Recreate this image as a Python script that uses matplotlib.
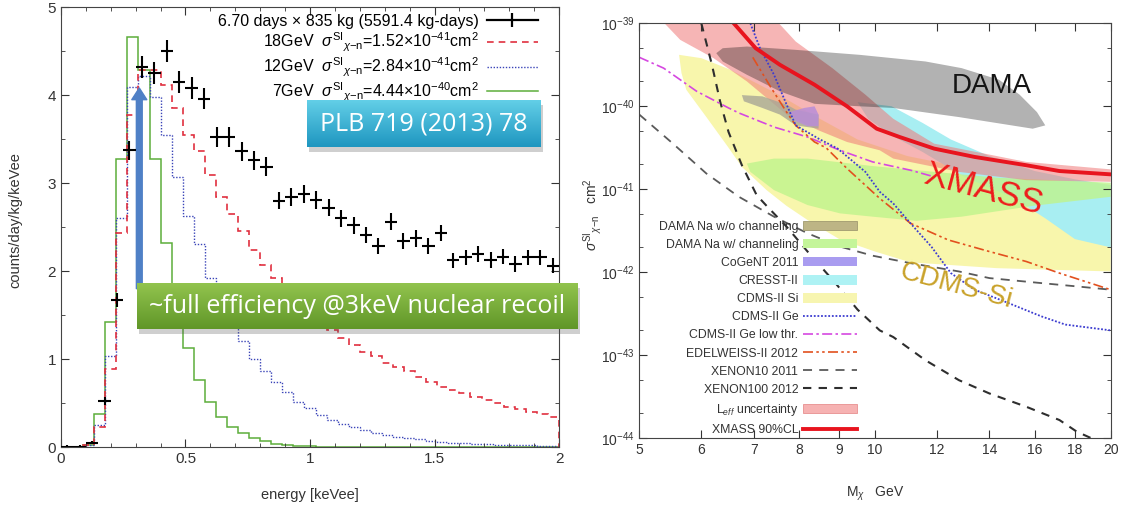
import numpy as np
import matplotlib
matplotlib.use("Agg")
import matplotlib.pyplot as plt
from matplotlib.patches import Patch, Rectangle
from matplotlib.lines import Line2D
from matplotlib.ticker import MultipleLocator, FixedLocator, NullFormatter, FuncFormatter

plt.rcParams['font.family'] = ['Liberation Sans', 'DejaVu Sans']
plt.rcParams['mathtext.fontset'] = 'custom'
plt.rcParams['mathtext.rm'] = 'Liberation Sans'
plt.rcParams['mathtext.it'] = 'Liberation Sans:italic'
plt.rcParams['mathtext.bf'] = 'Liberation Sans:bold'

# ---------------- left panel data ----------------
bin_edges = np.linspace(0, 2, 46)          # model histogram bins
energy = np.arange(0.025, 2.0, 0.05)       # data bin centres

counts = [0.0, 0.0, 0.05, 0.52, 1.67, 3.37, 4.32, 4.25, 4.50, 4.15,
          4.08, 3.96, 3.52, 3.52, 3.36, 3.26, 3.185, 2.80, 2.845, 2.875,
          2.81, 2.72, 2.60, 2.52, 2.41, 2.28, 2.56, 2.34, 2.37, 2.28,
          2.43, 2.12, 2.155, 2.19, 2.125, 2.165, 2.08, 2.155, 2.155, 2.06]
counts_err = [0.02, 0.02, 0.02, 0.043, 0.077, 0.110, 0.124, 0.123, 0.127, 0.122,
              0.121, 0.119, 0.112, 0.112, 0.110, 0.108, 0.107, 0.100, 0.101, 0.101,
              0.100, 0.099, 0.096, 0.095, 0.093, 0.090, 0.096, 0.091, 0.092, 0.090,
              0.093, 0.087, 0.088, 0.089, 0.087, 0.088, 0.086, 0.088, 0.088, 0.086]

wimp18 = [0, 0, 0.02, 0.23, 0.89, 2.43, 3.77, 4.28, 4.28, 4.11,
          3.85, 3.55, 3.36, 3.09, 2.84, 2.65, 2.46, 2.24, 2.07, 1.92,
          1.78, 1.65, 1.53, 1.42, 1.33, 1.235, 1.16, 1.08, 1.03, 0.95,
          0.91, 0.86, 0.80, 0.74, 0.685, 0.65, 0.61, 0.57, 0.53, 0.50,
          0.46, 0.43, 0.40, 0.37, 0.34]
wimp12 = [0, 0, 0.02, 0.25, 1.03, 2.6, 4.09, 4.22, 3.98, 3.55,
          3.07, 2.62, 2.31, 1.92, 1.65, 1.4, 1.2, 1.0, 0.86, 0.74,
          0.63, 0.515, 0.44, 0.364, 0.307, 0.26, 0.224, 0.193, 0.163, 0.136,
          0.117, 0.098, 0.087, 0.072, 0.06, 0.05, 0.045, 0.038, 0.032, 0.028,
          0.025, 0.022, 0.02, 0.017, 0.015]
wimp7 = [0, 0, 0.02, 0.38, 1.42, 3.27, 4.66, 4.28, 3.27, 2.32,
         1.60, 1.12, 0.76, 0.515, 0.344, 0.23, 0.16, 0.10, 0.065, 0.04,
         0.025, 0.012, 0.006, 0, 0, 0, 0, 0, 0, 0,
         0, 0, 0, 0, 0, 0, 0, 0, 0, 0,
         0, 0, 0, 0, 0]

legend_left = ['6.70 days × 835 kg (5591.4 kg-days)',
               r'18GeV  $\sigma^{\mathrm{SI}}{}_{\chi\mathrm{-n}}$=1.52×10$^{-41}$cm$^2$',
               r'12GeV  $\sigma^{\mathrm{SI}}{}_{\chi\mathrm{-n}}$=2.84×10$^{-41}$cm$^2$',
               r'7GeV  $\sigma^{\mathrm{SI}}{}_{\chi\mathrm{-n}}$=4.44×10$^{-40}$cm$^2$']

# ---------------- right panel data (log10 of cross section) ----------------
xmass_m = [6.6, 7.04, 7.56, 8.37, 9.21, 10.05, 10.75, 11.9, 13.4, 15.6, 17.2, 20.0]
xmass_s = [-39.0, -39.30, -39.50, -39.74, -40.0, -40.27, -40.37, -40.51, -40.61, -40.71, -40.78, -40.82]

leff_m = [5.26, 7.37, 7.92, 8.82, 9.72, 10.55, 11.9, 15.6, 20.0,
          20.0, 15.6, 12.8, 10.55, 10.14, 9.21, 8.47, 7.71, 6.86, 6.22, 5.64, 5.26]
leff_s = [-38.9, -38.9, -39.22, -39.54, -39.86, -40.15, -40.45, -40.67, -40.76,
          -40.91, -40.89, -40.79, -40.63, -40.53, -40.43, -40.29, -40.1, -39.70, -39.42, -39.2, -38.9]

dama_m = [6.27, 6.39, 6.86, 7.92, 9.56, 11.6, 12.9, 14.4, 15.3, 16.1, 16.5,
          15.9, 12.8, 10.55, 9.56, 8.37, 7.56, 6.86, 6.39]
dama_s = [-39.36, -39.30, -39.28, -39.32, -39.38, -39.46, -39.54, -39.68, -39.86, -40.07, -40.23,
          -40.27, -40.13, -40.02, -40.0, -39.97, -39.82, -39.62, -39.46]

damana_m = [6.76, 7.18, 7.71, 7.92, 8.47, 8.47, 7.92, 7.56, 7.18, 6.8]
damana_s = [-39.865, -39.88, -39.98, -40.04, -40.10, -40.27, -40.23, -40.10, -40.02, -39.94]

cogent_m = [7.77, 8.12, 8.37, 8.47, 8.47, 8.2, 7.92]
cogent_s = [-40.07, -40.02, -40.0, -40.10, -40.24, -40.24, -40.18]

damach_m = [6.86, 7.43, 8.2, 9.93, 11.6, 14.3, 20.0,
            20.0, 15.9, 12.9, 11.3, 9.93, 9.02, 8.2, 7.43, 6.93]
damach_s = [-40.69, -40.63, -40.63, -40.72, -40.78, -40.86, -40.92,
            -41.09, -41.2, -41.33, -41.38, -41.33, -41.29, -41.19, -41.01, -40.79]

cresst_m = [9.5, 10.5, 11.5, 12.5, 14.0, 16.0, 18.0, 20.0,
            20.0, 18.0, 16.5, 15.0, 13.0, 11.5, 10.5, 9.8]
cresst_s = [-39.95, -40.0, -40.2, -40.4, -40.6, -40.78, -40.88, -40.95,
            -41.7, -41.6, -41.35, -41.1, -40.85, -40.55, -40.35, -40.15]

cdmssi_m = [5.62, 6.0, 6.5, 7.5, 8.5, 9.5, 11.0, 14.0, 20.0,
            20.0, 14.3, 11.1, 10.0, 9.0, 8.2, 7.71, 7.27, 6.76, 6.49, 6.09, 5.74, 5.66]
cdmssi_s = [-39.38, -39.42, -39.55, -39.85, -40.15, -40.4, -40.6, -40.8, -40.95,
            -41.99, -41.95, -41.88, -41.75, -41.6, -41.37, -41.2, -41.01, -40.73, -40.49, -40.13, -39.80, -39.6]

cdmsge_m = [6.93, 7.13, 7.43, 7.71, 7.92, 8.47, 8.96, 9.72, 10.14, 10.55, 11.1, 11.8, 12.5, 13.4, 14.8, 16.3, 17.5, 20.0]
cdmsge_s = [-39.0, -39.3, -39.62, -39.98, -40.23, -40.39, -40.51, -40.79, -41.03, -41.17, -41.41, -41.69, -42.01, -42.21, -42.37, -42.53, -42.63, -42.70]

cdmslow_m = [5.0, 5.37, 5.92, 6.5, 6.7, 7.43, 8.2, 9.02, 9.93, 11.1, 11.8]
cdmslow_s = [-39.41, -39.54, -39.82, -40.02, -40.08, -40.25, -40.37, -40.53, -40.67, -40.77, -40.84]

edel_m = [6.98, 7.37, 7.71, 7.92, 8.37, 8.66, 9.21, 10.14, 11.1, 12.4, 14.0, 15.6, 17.2, 20.0]
edel_s = [-39.41, -39.78, -40.07, -40.23, -40.43, -40.5, -40.75, -41.11, -41.41, -41.61, -41.75, -41.87, -42.01, -42.21]

xe10_m = [5.0, 5.52, 6.09, 6.7, 7.43, 8.2, 9.02, 9.93, 11.1, 12.8, 14.0, 16.3, 18.1, 20.0]
xe10_s = [-40.1, -40.45, -40.81, -41.09, -41.33, -41.53, -41.69, -41.8, -41.89, -41.99, -42.07, -42.13, -42.17, -42.21]

xe100_m = [6.0, 6.19, 6.34, 6.5, 6.76, 7.06, 7.27, 7.71, 8.2, 8.9, 9.5, 10.14, 10.55, 11.6, 12.8, 14.0, 15.6, 17.2, 18.1, 18.9]
xe100_s = [-39.0, -39.5, -39.94, -40.31, -40.71, -41.07, -41.2, -41.45, -41.75, -42.13, -42.45, -42.7, -42.78, -43.06, -43.30, -43.46, -43.62, -43.78, -43.92, -44.0]

mass_ticks = [5, 6, 7, 8, 9, 10, 12, 14, 16, 18, 20]
sigma_decades = [-44, -43, -42, -41, -40, -39]

fig = plt.figure(figsize=(11.25, 5.11), dpi=100)

# ================= left panel =================
axL = fig.add_axes([0.0542, 0.1252, 0.4427, 0.861])
c_red, c_blue, c_green = '#e03040', '#3a44b8', '#5cae3a'
axL.stairs(wimp7, bin_edges, color=c_green, lw=1.1)
axL.stairs(wimp12, bin_edges, color=c_blue, lw=1.0, ls=(0, (1, 1.2)))
axL.stairs(wimp18, bin_edges, color=c_red, lw=1.2, ls=(0, (4, 3)))
axL.errorbar(energy, counts, xerr=0.025, yerr=counts_err, fmt='none',
             ecolor='black', elinewidth=1.5, capsize=0, zorder=5)

axL.set_xlim(0, 2)
axL.set_ylim(0, 5)
axL.xaxis.set_major_locator(MultipleLocator(0.5))
axL.xaxis.set_minor_locator(MultipleLocator(0.1))
axL.yaxis.set_major_locator(MultipleLocator(1))
axL.yaxis.set_minor_locator(MultipleLocator(0.5))
fmt_g = FuncFormatter(lambda v, p: '%g' % v)
axL.xaxis.set_major_formatter(fmt_g)
axL.yaxis.set_major_formatter(fmt_g)
axL.tick_params(which='both', direction='in', top=True, right=True, labelsize=11, colors='#333333')
axL.tick_params(which='major', length=6)
axL.tick_params(which='minor', length=3)
for s in axL.spines.values():
    s.set_color('#444444')
axL.set_xlabel('energy [keVee]', fontsize=10.5, color='#333333')
axL.set_ylabel('counts/day/kg/keVee', fontsize=10.5, color='#333333')
axL.xaxis.set_label_coords(0.5, -0.093)
axL.yaxis.set_label_coords(-0.078, 0.516)

hL = [Line2D([], [], color='black', lw=1.6, marker='|', markersize=10, markeredgewidth=1.6),
      Line2D([], [], color=c_red, lw=1.2, ls=(0, (4, 3))),
      Line2D([], [], color=c_blue, lw=1.0, ls=(0, (1, 1.2))),
      Line2D([], [], color=c_green, lw=1.1)]
axL.legend(hL, legend_left, loc='upper right', bbox_to_anchor=(538 / 1125, 1 - 14 / 511),
           bbox_transform=fig.transFigure, frameon=False, markerfirst=False, fontsize=11.5,
           handlelength=3.2, handletextpad=0.5, labelspacing=0.1, borderpad=0, borderaxespad=0)

axL.annotate('', xy=(0.3145, 4.08), xytext=(0.3145, 1.8),
             arrowprops=dict(arrowstyle='simple,tail_width=0.35,head_width=0.9,head_length=0.7',
                             color='#4f80c6', mutation_scale=12, shrinkA=0, shrinkB=0))


def gradient_box(px, text, top, bottom, fs):
    x0, y0, x1, y1 = px
    rect = [x0 / 1125, 1 - y1 / 511, (x1 - x0) / 1125, (y1 - y0) / 511]
    shadow = Rectangle((rect[0] + 0.002, rect[1] - 0.009), rect[2], rect[3],
                       transform=fig.transFigure, color='#555555', alpha=0.28, zorder=4, lw=0)
    fig.patches.append(shadow)
    bax = fig.add_axes(rect, zorder=5)
    t = np.array(top, float) / 255
    b = np.array(bottom, float) / 255
    f = np.linspace(0, 1, 60)[:, None, None]
    bax.imshow(t + (b - t) * f, aspect='auto', extent=[0, 1, 0, 1])
    bax.set_axis_off()
    bax.text(0.5, 0.5, text, color='white', ha='center', va='center',
             fontsize=fs, family='Open Sans', transform=bax.transAxes)


gradient_box((307, 100, 541, 147), 'PLB 719 (2013) 78', (100, 208, 232), (30, 150, 192), 18)
gradient_box((137, 283, 578, 329), '~full efficiency @3keV nuclear recoil', (146, 196, 78), (96, 150, 40), 18)

# ================= right panel =================
axR = fig.add_axes([0.5683, 0.1423, 0.419, 0.8121])
axR.set_xscale('log')
axR.set_yscale('log')


def pw(s):
    return 10.0 ** np.array(s)


axR.fill(cdmssi_m, pw(cdmssi_s), color='#f8f6ac', lw=0, zorder=1)
axR.fill(cresst_m, pw(cresst_s), color='#a8eef2', lw=0, zorder=1.1)
axR.fill(damach_m, pw(damach_s), color='#bff48c', alpha=0.8, lw=0, zorder=1.2)
axR.fill(leff_m, pw(leff_s), color='#f07878', alpha=0.55, lw=0, zorder=1.3)
axR.fill(damana_m, pw(damana_s), color='#a9a796', alpha=0.8, lw=0, zorder=1.4)
axR.fill(cogent_m, pw(cogent_s), color='#b98ed8', alpha=0.85, lw=0, zorder=1.5)
axR.fill(dama_m, pw(dama_s), color='black', alpha=0.3, lw=0, zorder=1.6)

st_cdmsge = dict(color='#3c3cd0', lw=1.3, ls=(0, (1, 1)))
st_low = dict(color='#d548e0', lw=1.2, ls=(0, (6, 2, 1.5, 2)))
st_edel = dict(color='#e2501e', lw=1.2, ls=(0, (6, 2, 1.5, 2, 1.5, 2)))
st_xe10 = dict(color='#5a5a5a', lw=1.3, ls=(0, (5, 4)))
st_xe100 = dict(color='#2e2e2e', lw=1.5, ls=(0, (4, 3.5)))
st_xmass = dict(color='#e8141e', lw=2.8)

axR.plot(xe10_m, pw(xe10_s), zorder=3, **st_xe10)
axR.plot(xe100_m, pw(xe100_s), zorder=3, **st_xe100)
axR.plot(cdmslow_m, pw(cdmslow_s), zorder=3, **st_low)
axR.plot(edel_m, pw(edel_s), zorder=3, **st_edel)
axR.plot(cdmsge_m, pw(cdmsge_s), zorder=3, **st_cdmsge)
axR.plot(xmass_m, pw(xmass_s), zorder=4, **st_xmass)

axR.set_xlim(5, 20)
axR.set_ylim(1e-44, 1e-39)
axR.xaxis.set_major_locator(FixedLocator(mass_ticks))
axR.xaxis.set_major_formatter(FuncFormatter(lambda v, p: '%d' % round(v)))
axR.xaxis.set_minor_locator(FixedLocator([]))
axR.yaxis.set_major_locator(FixedLocator(pw(sigma_decades)))
axR.yaxis.set_major_formatter(FuncFormatter(lambda v, p: r'$10^{%d}$' % round(np.log10(v))))
minor_y = [m * 10.0 ** d for d in sigma_decades[:-1] for m in (2, 5)]
axR.yaxis.set_minor_locator(FixedLocator(minor_y))
axR.yaxis.set_minor_formatter(NullFormatter())
axR.tick_params(which='both', direction='in', top=True, right=True, labelsize=10, colors='#333333')
axR.tick_params(which='major', length=6)
axR.tick_params(which='minor', length=3)
for s in axR.spines.values():
    s.set_color('#444444')
    s.set_zorder(6)

axR.set_ylabel(r'$\sigma^{\mathrm{SI}}{}_{\chi\mathrm{-n}}$   cm$^2$', fontsize=10, color='#333333')
axR.set_xlabel(r'M$_\chi$   GeV', fontsize=10, color='#333333')
axR.yaxis.set_label_coords(-0.075, 0.538)
axR.xaxis.set_label_coords(0.5, -0.112)

axR.text(14.1, 10 ** -39.76, 'DAMA', fontsize=20, ha='center', va='center', color='#151515', zorder=5)
axR.text(13.74, 10 ** -41.0, 'XMASS', fontsize=25, ha='center', va='center', color='#ee1c1c',
         rotation=-15, rotation_mode='anchor', zorder=5)
axR.text(12.68, 10 ** -42.165, 'CDMS-Si', fontsize=20, ha='center', va='center', color='#c9a22a',
         rotation=-15, rotation_mode='anchor', zorder=5)

hR = [Patch(facecolor='#bdb585', edgecolor='#a09a70', lw=0.6),
      Patch(facecolor='#c4f59a', lw=0),
      Patch(facecolor='#a99cf0', lw=0),
      Patch(facecolor='#aef2f4', lw=0),
      Patch(facecolor='#f7f5b0', lw=0),
      Line2D([], [], **st_cdmsge),
      Line2D([], [], **st_low),
      Line2D([], [], **st_edel),
      Line2D([], [], **st_xe10),
      Line2D([], [], **st_xe100),
      Patch(facecolor='#f6b2b2', edgecolor='#e89090', lw=0.6),
      Line2D([], [], **st_xmass)]
labR = ['DAMA Na w/o channeling', 'DAMA Na w/ channeling', 'CoGeNT 2011', 'CRESST-II',
        'CDMS-II Si', 'CDMS-II Ge', 'CDMS-II Ge low thr.', 'EDELWEISS-II 2012',
        'XENON10 2011', 'XENON100 2012', r'L$_{eff}$ uncertainty', 'XMASS 90%CL']
legR = axR.legend(hR, labR, loc='lower right', bbox_to_anchor=(857 / 1125, 1 - 436 / 511),
                  bbox_transform=fig.transFigure, frameon=False, markerfirst=False, fontsize=8.8,
                  handlelength=4.4, handleheight=0.8, handletextpad=0.4, labelspacing=0.5,
                  borderpad=0, borderaxespad=0)
for t in legR.get_texts():
    t.set_color('#333333')
legR.set_zorder(7)

fig.savefig('out.png', dpi=100)
